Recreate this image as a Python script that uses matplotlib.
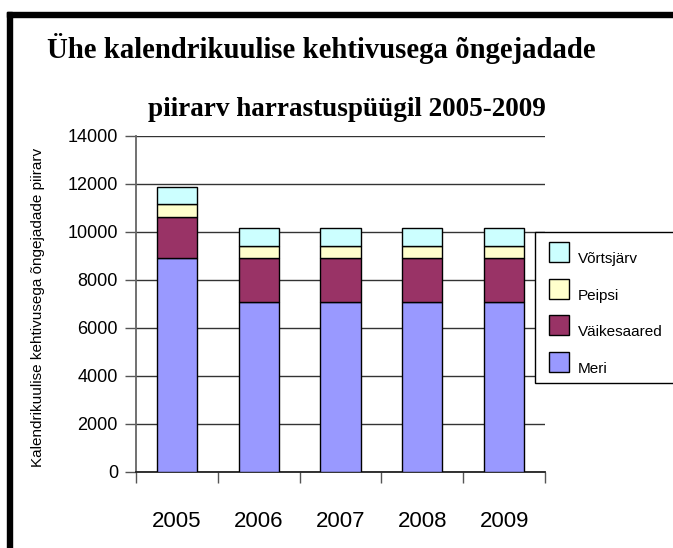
import matplotlib
matplotlib.use("Agg")
import matplotlib.pyplot as plt
from matplotlib.patches import Rectangle
import numpy as np

years = ["2005", "2006", "2007", "2008", "2009"]
meri = [8900, 7080, 7080, 7080, 7080]
vaikesaared = [1740, 1820, 1820, 1820, 1820]
peipsi = [510, 500, 500, 500, 500]
vortsjarv = [740, 750, 750, 750, 750]
series_names = ["Meri", "Väikesaared", "Peipsi", "Võrtsjärv"]
series_colors = ["#9999FF", "#993366", "#FFFFCC", "#CCFFFF"]
yticks = [0, 2000, 4000, 6000, 8000, 10000, 12000, 14000]

W, H = 673, 548
fig = plt.figure(figsize=(W / 100, H / 100), dpi=100)
fig.patch.set_facecolor("white")

def fx(x):
    return x / W

def fy(y):
    return 1 - y / H

ax = fig.add_axes([fx(136), fy(472), fx(545) - fx(136), fy(136) - fy(472)])
x = np.arange(len(years))
bottom = np.zeros(len(years))
for vals, name, col in zip([meri, vaikesaared, peipsi, vortsjarv], series_names, series_colors):
    ax.bar(x, vals, width=0.49, bottom=bottom, color=col, edgecolor="black",
           linewidth=1.0, label=name, zorder=3)
    bottom += np.array(vals)

ax.set_xlim(-0.5, len(years) - 0.5)
ax.set_ylim(0, 14000)
ax.set_yticks(yticks)
ax.set_yticklabels([str(v) for v in yticks], fontsize=13, family="Liberation Sans")
ax.tick_params(axis="y", direction="out", length=8, width=1, color="#555555", pad=5)
ax.yaxis.grid(True, color="#333333", linewidth=1.0, zorder=0)

ax.set_xticks(np.arange(-0.5, len(years), 1.0))
ax.set_xticklabels([])
ax.tick_params(axis="x", which="major", direction="out", length=8, width=1, color="#555555")
ax.set_xticks(x, minor=True)
ax.set_xticklabels(years, minor=True, fontsize=16, family="Liberation Sans")
ax.tick_params(axis="x", which="minor", length=0, pad=28)

for s in ["top", "right"]:
    ax.spines[s].set_visible(False)
ax.spines["left"].set_color("#666666")
ax.spines["left"].set_linewidth(1.3)
ax.spines["bottom"].set_color("#222222")
ax.spines["bottom"].set_linewidth(1.3)
ax.set_axisbelow(True)

fig.text(fx(38), fy(307), "Kalendrikuulise kehtivusega õngejadade piirarv",
         rotation=90, ha="center", va="center", fontsize=11, family="Liberation Sans")

fig.text(fx(47), fy(49), "Ühe kalendrikuulise kehtivusega õngejadade",
         ha="left", va="center", fontsize=20.7, fontweight="bold", family="Liberation Serif")
fig.text(fx(148), fy(110), "piirarv harrastuspüügil 2005-2009",
         ha="left", va="center", fontsize=19.5, fontweight="bold", family="Liberation Serif")

# frame borders
fig.patches.append(Rectangle((fx(7), fy(17)), fx(673) - fx(7), fy(12) - fy(17),
                             transform=fig.transFigure, color="black", zorder=10))
fig.patches.append(Rectangle((fx(7), 0), fx(12) - fx(7), fy(12),
                             transform=fig.transFigure, color="black", zorder=10))

# legend frame and entries (reverse order, top = Võrtsjärv)
fig.patches.append(Rectangle((fx(535), fy(383)), fx(700) - fx(535), fy(232) - fy(383),
                             transform=fig.transFigure, facecolor="white",
                             edgecolor="black", linewidth=1.0, zorder=5))
leg_top = 242
leg_step = 36.7
for i, (name, col) in enumerate(list(zip(series_names, series_colors))[::-1]):
    top = leg_top + i * leg_step
    fig.patches.append(Rectangle((fx(549), fy(top + 20)), fx(569) - fx(549), fy(top) - fy(top + 20),
                                 transform=fig.transFigure, facecolor=col,
                                 edgecolor="black", linewidth=1.0, zorder=6))
    fig.text(fx(578), fy(top + 17), name, ha="left", va="center", fontsize=11,
             family="Liberation Sans", zorder=7)

fig.savefig("out.png", dpi=100)
